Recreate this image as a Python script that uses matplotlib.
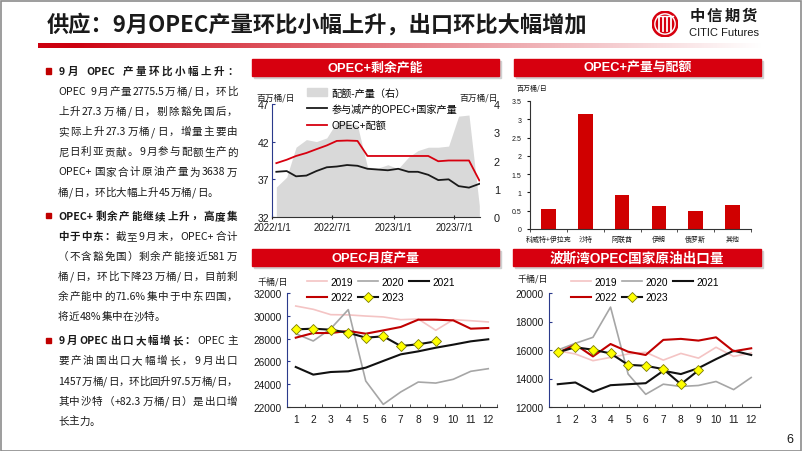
import numpy as np
import pandas as pd
import matplotlib
matplotlib.use("Agg")
import matplotlib.pyplot as plt
from matplotlib import font_manager
from matplotlib.patches import Rectangle, Circle, Patch
from matplotlib.lines import Line2D

W, H = 802, 452

# ---------------- data ----------------
# OPEC+ spare capacity (monthly, 2022/1 - 2023/9)
spare_months = pd.date_range("2022-01-01", periods=21, freq="MS") + pd.Timedelta(days=13)
opec_plus_prod = [38.0, 38.1, 37.4, 37.5, 38.1, 38.6, 38.7, 38.9, 38.8, 38.4, 38.3,
                  38.2, 38.4, 38.0, 38.0, 37.6, 36.9, 37.0, 36.1, 35.9, 36.4]
opec_plus_quota = [39.15, 39.6, 40.1, 40.5, 41.0, 41.5, 42.1, 42.15, 42.1, 40.1, 40.1,
                   40.1, 40.1, 40.1, 40.1, 40.1, 39.4, 39.5, 39.5, 39.5, 36.85]
quota_minus_prod = [1.06, 1.41, 2.47, 2.74, 2.67, 2.8, 3.36, 3.36, 3.24, 1.77, 1.73,
                    1.85, 1.71, 2.12, 2.35, 2.47, 2.47, 2.51, 3.57, 3.61, 0.4]

# OPEC+ spare capacity by country
bar_names = ["科威特+伊拉克", "沙特", "阿联酋", "伊朗", "俄罗斯", "其他"]
bar_values = [0.55, 3.15, 0.93, 0.64, 0.50, 0.65]

months = list(range(1, 13))
years = ["2019", "2020", "2021", "2022", "2023"]

# OPEC monthly production, kb/d
prod_2019 = [30860, 30570, 30100, 30080, 29980, 29900, 29660, 29720, 28730, 29660, 29570, 29460]
prod_2020 = [28430, 27790, 28870, 30540, 24280, 22230, 23320, 24190, 24100, 24430, 25130, 25360]
prod_2021 = [25510, 24840, 25070, 25130, 25450, 26040, 26620, 26880, 27200, 27470, 27760, 27940]
prod_2022 = [28080, 28490, 28490, 28670, 28430, 28720, 29020, 29660, 29660, 29600, 28870, 28930]
prod_2023 = [28810, 28870, 28780, 28520, 28080, 28200, 27350, 27500, 27755]

# Persian Gulf OPEC crude exports, kb/d
exp_2019 = [15950, 15720, 15250, 15480, 15720, 15840, 15290, 15760, 15430, 16190, 15550, 15790]
exp_2020 = [16000, 16470, 16890, 19010, 14310, 12890, 13600, 13440, 13510, 13790, 13220, 14070]
exp_2021 = [13600, 13720, 13060, 13530, 13600, 13670, 14540, 14310, 14730, 15360, 15950, 15650]
exp_2022 = [15790, 16380, 15550, 16420, 15880, 15650, 16710, 16780, 16660, 16890, 15910, 16120]
exp_2023 = [15840, 16190, 16020, 15760, 14960, 14890, 14660, 13600, 14570]

title = "供应：9月OPEC产量环比小幅上升，出口环比大幅增加"

paragraphs = [
    [[("9月 OPEC 产量环比小幅上升：", True)],
     [("OPEC 9月产量2775.5万桶/日，环比", False)],
     [("上升27.3万桶/日，剔除豁免国后，", False)],
     [("实际上升27.3万桶/日，增量主要由", False)],
     [("尼日利亚贡献。9月参与配额生产的", False)],
     [("OPEC+国家合计原油产量为3638万", False)],
     [("桶/日，环比大幅上升45万桶/日。", False)]],
    [[("OPEC+剩余产能继续上升，高度集", True)],
     [("中于中东：", True), ("截至9月末，OPEC+合计", False)],
     [("（不含豁免国）剩余产能接近581万", False)],
     [("桶/日，环比下降23万桶/日，目前剩", False)],
     [("余产能中的71.6%集中于中东四国，", False)],
     [("将近48%集中在沙特。", False)]],
    [[("9月OPEC出口大幅增长：", True), ("OPEC主", False)],
     [("要产油国出口大幅增长，9月出口", False)],
     [("1457万桶/日，环比回升97.5万桶/日，", False)],
     [("其中沙特（+82.3万桶/日）是出口增", False)],
     [("长主力。", False)]],
]

# ---------------- fonts ----------------
installed = {f.name for f in font_manager.fontManager.ttflist}
CJK = "Noto Sans CJK SC"
LATIN = "Liberation Sans"
NARROW = "Liberation Sans Narrow" if "Liberation Sans Narrow" in installed else LATIN
FAM = [LATIN, CJK, "DejaVu Sans"]
FAM_N = [NARROW, CJK, "DejaVu Sans"]
plt.rcParams["font.family"] = FAM
plt.rcParams["axes.unicode_minus"] = False

RED = "#d7000f"
DARK = "#1a1a1a"
NAVY = "#2b3a8c"


def box(x0, y0, x1, y1):
    return [x0 / W, 1 - y1 / H, (x1 - x0) / W, (y1 - y0) / H]


def fy(y):
    return 1 - y / H


fig = plt.figure(figsize=(W / 100, H / 100), dpi=100)
renderer = fig.canvas.get_renderer()

# slide frame
fig.add_artist(Rectangle((0.5 / W, 0.5 / H), (W - 2) / W, (H - 2) / H, transform=fig.transFigure,
                         fill=False, edgecolor="#8c8c8c", linewidth=1.2))

# title + gradient rule
fig.text(47 / W, fy(25), title, fontsize=16, fontweight="bold", family=[CJK], color=DARK,
         va="center", ha="left")
ax_g = fig.add_axes(box(38, 44, 762, 49))
t = np.linspace(0, 1, 400)
fade = np.clip((t - 0.05) / 0.95, 0, 1) ** 0.9
grad = np.ones((1, 400, 3))
grad[0, :, 0] = 0.80 + 0.20 * fade
grad[0, :, 1] = 0.0 + 1.0 * fade
grad[0, :, 2] = 0.06 + 0.94 * fade
ax_g.imshow(grad, aspect="auto")
ax_g.axis("off")

# logo
ax_l = fig.add_axes(box(652, 12, 678, 38))
ax_l.set_xlim(-1, 1)
ax_l.set_ylim(-1, 1)
ax_l.axis("off")
ax_l.add_patch(Circle((0, 0), 0.98, color=RED))
ax_l.add_patch(Circle((0, 0), 0.78, fill=False, edgecolor="white", linewidth=1.0))
for xx in [-0.45, -0.15, 0.15, 0.45]:
    ax_l.plot([xx, xx], [-0.55, 0.55], color="white", linewidth=1.3)
ax_l.plot([-0.6, 0.6], [0.62, 0.62], color="white", linewidth=1.0)
for i, ch in enumerate("中信期货"):
    fig.text((697 + i * 17.5) / W, fy(16), ch, fontsize=11, fontweight="bold", family=[CJK],
             color=DARK, ha="center", va="center")
fig.text(689 / W, fy(33), "CITIC Futures", fontsize=8, family=[LATIN], color=DARK,
         ha="left", va="center")
fig.text(790 / W, fy(440), "6", fontsize=9, family=[LATIN], color=DARK, ha="center", va="center")


# ---------------- left text ----------------
def draw_line(x0, x1, y, segs, justify, size=7.6):
    em = size * 100 / 72
    cells = []
    for txt, bold in segs:
        run = ""
        for ch in txt:
            if ord(ch) < 128 and ch != " ":
                run += ch
                continue
            if run:
                cells.append((run, bold))
                run = ""
            cells.append((ch, bold))
        if run:
            cells.append((run, bold))
    objs, widths = [], []
    for txt, bold in cells:
        if txt == " ":
            objs.append(None)
            widths.append(0.25 * em)
            continue
        o = fig.text(0, fy(y), txt, fontsize=size, family=[CJK], color=DARK,
                     fontweight="bold" if bold else "normal", ha="center", va="center")
        if ord(txt[0]) >= 128:
            w = em
        else:
            w = o.get_window_extent(renderer).width + 0.08 * em
        objs.append(o)
        widths.append(w)
    gap = 0.0
    if justify and len(cells) > 1:
        gap = (x1 - x0 - sum(widths)) / (len(cells) - 1)
    x = x0
    for o, w in zip(objs, widths):
        if o is not None:
            o.set_x((x + w / 2) / W)
        x += w + gap


y = 72
for para in paragraphs:
    fig.add_artist(Rectangle((45.5 / W, fy(y + 2.6)), 5.2 / W, 5.2 / H, transform=fig.transFigure,
                             color="#c00000"))
    for k, segs in enumerate(para):
        draw_line(58, 237.5, y, segs, justify=(k < len(para) - 1))
        y += 20.1
    y += 4


# ---------------- panel headers ----------------
def header(x0, x1, y0, y1, text, fam, size):
    fig.add_artist(Rectangle(((x0 + 1.5) / W, fy(y1 + 1.5)), (x1 - x0) / W, (y1 - y0) / H,
                             transform=fig.transFigure, color="#d0d0d0", zorder=0))
    fig.add_artist(Rectangle((x0 / W, fy(y1)), (x1 - x0) / W, (y1 - y0) / H,
                             transform=fig.transFigure, color=RED, zorder=1))
    fig.text((x0 + x1) / 2 / W, fy((y0 + y1) / 2), text, color="white", fontsize=size,
             fontweight="bold", family=fam, ha="center", va="center", zorder=2)


header(252, 499, 60, 77, "OPEC+剩余产能", FAM_N, 9.3)
header(514, 761, 60, 77, "OPEC+产量与配额", FAM_N, 9.3)
header(252, 499, 250, 267, "OPEC月度产量", FAM_N, 9.3)
header(513, 761, 250, 267, "波斯湾OPEC国家原油出口量", FAM, 9.8)

# ---------------- panel 1: spare capacity ----------------
ax1 = fig.add_axes(box(272, 105, 480, 218))
ax1r = ax1.twinx()
ax1r.fill_between(spare_months, 0, quota_minus_prod, color="#d9d9d9", linewidth=0)
ax1r.set_ylim(0, 4)
ax1r.set_yticks([0, 1, 2, 3, 4])
ax1.plot(spare_months, opec_plus_prod, color="#1a1a1a", linewidth=1.3)
ax1.plot(spare_months, opec_plus_quota, color=RED, linewidth=1.3)
ax1.set_ylim(32, 47)
ax1.set_yticks([32, 37, 42, 47])
ax1.set_xlim(pd.Timestamp("2022-01-01"), pd.Timestamp("2023-09-16"))
xt = pd.to_datetime(["2022-01-01", "2022-07-01", "2023-01-01", "2023-07-01"])
ax1.set_xticks(xt)
ax1.set_xticklabels([f"{d.year}/{d.month}/1" for d in xt])
ax1.set_zorder(ax1r.get_zorder() + 1)
ax1.patch.set_visible(False)
for a in (ax1, ax1r):
    for s in ("top", "right"):
        a.spines[s].set_visible(False)
    a.spines["left"].set_visible(a is ax1)
    a.spines["bottom"].set_visible(a is ax1)
ax1.spines["left"].set_color(NAVY)
ax1.spines["bottom"].set_color("#333333")
ax1.tick_params(axis="y", direction="in", length=2.5, labelsize=7.5, pad=2, colors=DARK)
ax1.tick_params(axis="y", color=NAVY)
ax1.tick_params(axis="x", direction="inout", length=3, labelsize=7, pad=2, colors=DARK)
ax1r.tick_params(axis="y", length=0, labelsize=7.8, pad=10, colors=DARK)
for lab in ax1.get_xticklabels() + ax1.get_yticklabels() + ax1r.get_yticklabels():
    lab.set_family(FAM_N)
fig.text(256 / W, fy(98), "百万桶/日", fontsize=6.3, family=[CJK], color=DARK, va="center")
fig.text(459 / W, fy(98), "百万桶/日", fontsize=6.3, family=[CJK], color=DARK, va="center")
h1 = [Patch(color="#d9d9d9"), Line2D([], [], color="#1a1a1a", lw=1.3), Line2D([], [], color=RED, lw=1.3)]
ax1.legend(h1, ["配额-产量（右）", "参与减产的OPEC+国家产量", "OPEC+配额"], loc="upper left",
           bbox_to_anchor=(307 / W, fy(88.5)), bbox_transform=fig.transFigure, frameon=False,
           prop={"family": FAM_N, "size": 7.3}, handlelength=2.0, handleheight=0.8,
           handletextpad=0.45, labelspacing=0.62, borderpad=0, borderaxespad=0)

# ---------------- panel 2: spare capacity by country ----------------
ax2 = fig.add_axes(box(530, 102, 751, 230))
xpos = np.arange(len(bar_names))
ax2.bar(xpos, bar_values, width=0.4, color="#d00000")
ax2.set_xlim(-0.5, len(bar_names) - 0.5)
ax2.set_ylim(0, 3.5)
ax2.set_yticks(np.arange(0, 3.51, 0.5))
ax2.set_yticklabels(["0", "0.5", "1", "1.5", "2", "2.5", "3", "3.5"])
ax2.set_xticks(xpos)
ax2.set_xticklabels(bar_names)
ax2.set_xticks(np.arange(-0.5, len(bar_names)), minor=True)
ax2.tick_params(axis="x", which="major", length=0, labelsize=5, pad=4, colors=DARK)
ax2.tick_params(axis="x", which="minor", length=2, direction="out", color="#333333")
ax2.tick_params(axis="y", length=2, labelsize=5, pad=4, colors=DARK)
for s in ("top", "right"):
    ax2.spines[s].set_visible(False)
for s in ("left", "bottom"):
    ax2.spines[s].set_color("#333333")
    ax2.spines[s].set_linewidth(0.8)
for lab in ax2.get_xticklabels():
    lab.set_family([CJK])
fig.text(517 / W, fy(89), "百万桶/日", fontsize=5, family=[CJK], color=DARK, va="center")


# ---------------- panels 3/4: seasonal lines ----------------
def seasonal(rect, series, ylim, yticks, unit_xy, leg_xy):
    ax = fig.add_axes(box(*rect))
    styles = [("#f4c4c4", 1.2), ("#a6a6a6", 1.2), ("#111111", 1.5), ("#c00000", 1.5)]
    handles = []
    for vals, (c, lw) in zip(series[:4], styles):
        handles.append(ax.plot(months, vals, color=c, linewidth=lw)[0])
    handles.append(ax.plot(months[:len(series[4])], series[4], color="#111111", linewidth=1.5,
                           marker="D", markersize=4.6, markerfacecolor="#ffff00",
                           markeredgecolor="#7a7a00", markeredgewidth=0.6)[0])
    ax.set_xlim(0.55, 12.45)
    ax.set_ylim(*ylim)
    ax.set_yticks(yticks)
    ax.set_xticks(months)
    ax.set_xticks(np.arange(0.5, 12.6, 1), minor=True)
    ax.tick_params(axis="x", which="major", length=0, labelsize=7.3, pad=5, colors=DARK)
    ax.tick_params(axis="x", which="minor", length=2, direction="in", color="#333333")
    ax.tick_params(axis="y", length=2, direction="in", labelsize=7.3, pad=4, colors=DARK, color=NAVY)
    for s in ("top", "right"):
        ax.spines[s].set_visible(False)
    ax.spines["left"].set_color(NAVY)
    ax.spines["bottom"].set_color("#333333")
    fig.text(unit_xy[0] / W, fy(unit_xy[1]), "千桶/日", fontsize=6.5, family=[CJK], color=DARK,
             va="center")
    order = [0, 3, 1, 4, 2]
    ax.legend([handles[i] for i in order], [years[i] for i in order], ncol=3, loc="upper left",
              bbox_to_anchor=(leg_xy[0] / W, fy(leg_xy[1])), bbox_transform=fig.transFigure,
              frameon=False, prop={"size": 7.3}, handlelength=2.0, handletextpad=0.35,
              columnspacing=0.45, labelspacing=0.5, borderpad=0, borderaxespad=0)
    return ax


seasonal((287, 294, 497, 408), [prod_2019, prod_2020, prod_2021, prod_2022, prod_2023],
         (22000, 32000), np.arange(22000, 32001, 2000), (257, 282), (307, 278))
seasonal((549, 294, 760, 408), [exp_2019, exp_2020, exp_2021, exp_2022, exp_2023],
         (12000, 20000), np.arange(12000, 20001, 2000), (518, 279), (571, 278))

fig.savefig("out.png", dpi=100)
